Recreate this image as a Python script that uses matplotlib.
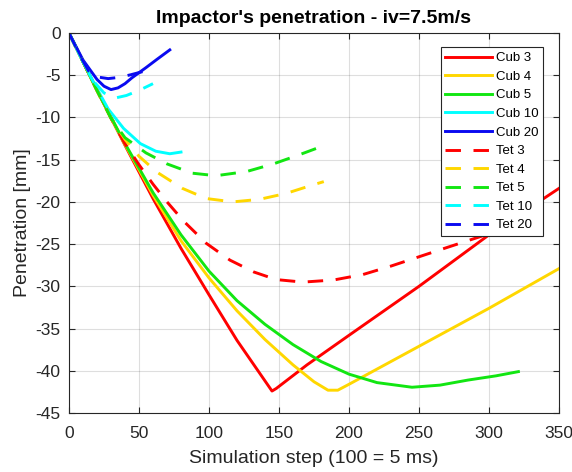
import matplotlib
matplotlib.use("Agg")
import matplotlib.pyplot as plt
import numpy as np

plt.rcParams['font.family'] = ['Liberation Sans', 'DejaVu Sans']

# ---- data ----
cub3_x = [0, 20, 40, 60, 80, 100, 120, 145, 148, 170, 200, 250, 300, 350]
cub3_y = [0, -6.8, -13.3, -19.6, -25.5, -31.0, -36.4, -42.4, -42.1, -39.3, -35.8, -30.0, -23.9, -18.4]

cub4_x = [0, 20, 40, 60, 80, 100, 120, 140, 160, 175, 185, 192, 200, 250, 300, 350]
cub4_y = [0, -6.8, -13.2, -19.2, -24.6, -29.0, -32.9, -36.3, -39.3, -41.3, -42.3, -42.3, -41.6, -37.1, -32.6, -27.9]

cub5_x = [0, 20, 40, 60, 80, 100, 120, 140, 160, 180, 200, 220, 245, 265, 285, 305, 321]
cub5_y = [0, -6.8, -13.1, -18.9, -23.9, -28.2, -31.7, -34.5, -36.9, -38.9, -40.4, -41.4, -41.95, -41.7, -41.1, -40.6, -40.1]

cub10_x = [0, 10, 20, 28, 39, 51, 62, 72, 80]
cub10_y = [0, -3.4, -6.6, -9.0, -11.3, -13.1, -14.0, -14.3, -14.1]

cub20_x = [0, 10, 20, 25, 30, 35, 40, 45, 55, 63, 72]
cub20_y = [0, -3.2, -5.5, -6.3, -6.7, -6.5, -6.0, -5.3, -4.1, -3.1, -2.0]

tet3_x = [0, 20, 30, 40, 50, 60, 70, 82, 98, 115, 132, 148, 167, 189, 210, 230, 250, 270, 294, 320]
tet3_y = [0, -6.8, -10.1, -13.1, -15.6, -17.9, -20.0, -22.3, -24.9, -26.9, -28.3, -29.2, -29.5, -29.25, -28.6, -27.6, -26.5, -25.4, -24.1, -22.6]

tet4_x = [0, 20, 30, 40, 50, 63, 81, 98, 117, 136, 155, 174, 182]
tet4_y = [0, -6.8, -10.1, -12.6, -14.6, -16.5, -18.4, -19.6, -20.0, -19.7, -19.0, -18.0, -17.6]

tet5_x = [0, 20, 30, 40, 55, 70, 88, 105, 127, 146, 164, 181]
tet5_y = [0, -6.8, -10.1, -12.4, -14.2, -15.5, -16.6, -16.9, -16.4, -15.5, -14.45, -13.4]

tet10_x = [0, 10, 18, 25, 33, 41, 50, 60]
tet10_y = [0, -3.4, -5.8, -7.1, -7.7, -7.4, -6.8, -6.0]

tet20_x = [0, 8, 14, 20, 28, 36, 44, 52, 61]
tet20_y = [0, -2.7, -4.5, -5.2, -5.4, -5.25, -4.95, -4.6, -4.2]

labels = ["Cub 3", "Cub 4", "Cub 5", "Cub 10", "Cub 20",
          "Tet 3", "Tet 4", "Tet 5", "Tet 10", "Tet 20"]
xticks = [0, 50, 100, 150, 200, 250, 300, 350]
yticks = [0, -5, -10, -15, -20, -25, -30, -35, -40, -45]

colors = ["#FF0000", "#FFD700", "#12E612", "#00FFFF", "#0A0AF0"]

fig = plt.figure(figsize=(5.72, 4.72), dpi=100)
ax = fig.add_axes([69/572, 59/472, 490/572, 380/472])

solid = [(cub3_x, cub3_y), (cub4_x, cub4_y), (cub5_x, cub5_y), (cub10_x, cub10_y), (cub20_x, cub20_y)]
dashed = [(tet3_x, tet3_y), (tet4_x, tet4_y), (tet5_x, tet5_y), (tet10_x, tet10_y), (tet20_x, tet20_y)]

for i, (x, y) in enumerate(solid):
    ax.plot(x, y, color=colors[i], lw=2.1, label=labels[i], solid_joinstyle='round')
for i, (x, y) in enumerate(dashed):
    ax.plot(x, y, color=colors[i], lw=2.1, linestyle=(0, (5.3, 4.3)), label=labels[5 + i])

ax.set_xlim(0, 350)
ax.set_ylim(-45, 0)
ax.set_xticks(xticks)
ax.set_yticks(yticks)
ax.set_xticklabels([str(t) for t in xticks])
ax.set_yticklabels([str(t) for t in yticks])
ax.grid(True, color=(0.15, 0.15, 0.15), alpha=0.15, lw=0.8)
ax.set_axisbelow(True)
ax.tick_params(direction='in', length=4, width=0.8, colors=(0.15, 0.15, 0.15),
               labelsize=12.5, top=True, right=True)
ax.tick_params(axis='x', pad=9.5)
ax.tick_params(axis='y', pad=6)
for s in ax.spines.values():
    s.set_color((0.15, 0.15, 0.15))
    s.set_linewidth(0.8)

ax.set_title("Impactor's penetration - iv=7.5m/s", fontsize=14, fontweight='bold', pad=7)
ax.set_xlabel("Simulation step (100 = 5 ms)", fontsize=14, color=(0.15, 0.15, 0.15), labelpad=6)
ax.set_ylabel("Penetration [mm]", fontsize=14, color=(0.15, 0.15, 0.15), labelpad=3)

leg = ax.legend(loc='upper right', bbox_to_anchor=(0.967, 0.962), borderaxespad=0,
                fontsize=9.5, handlelength=3.5, labelspacing=0.48, handletextpad=0.3,
                borderpad=0.35, fancybox=False, framealpha=1, edgecolor=(0.15, 0.15, 0.15))
leg.get_frame().set_linewidth(0.8)

fig.savefig("out.png", dpi=100)
